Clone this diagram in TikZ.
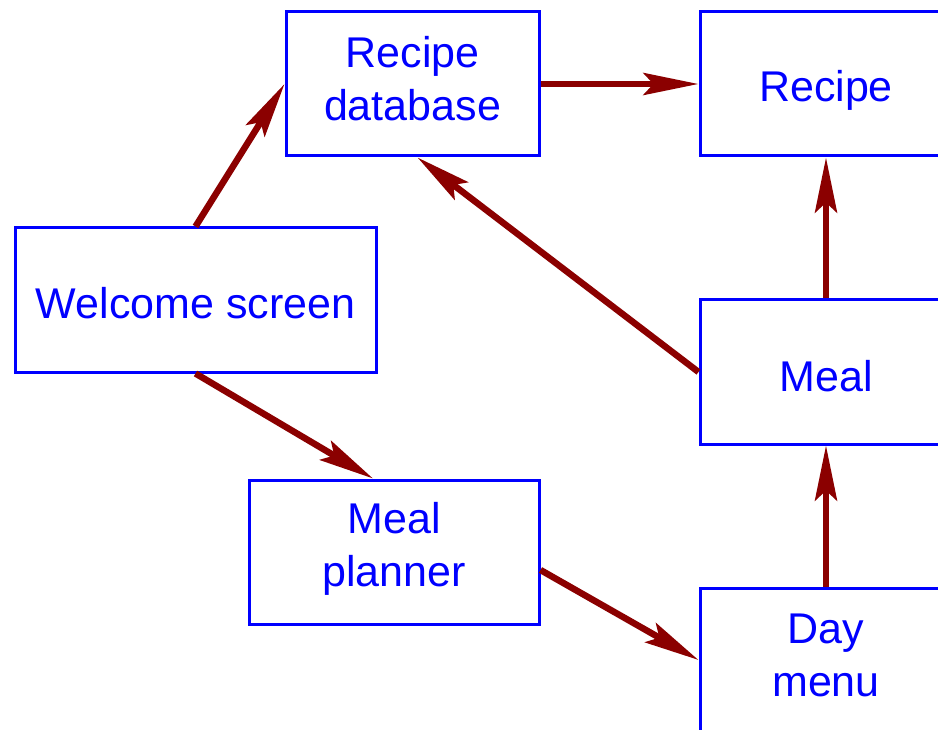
\documentclass[tikz,border=0pt]{standalone}
\usepackage{fontspec}
\setmainfont{Liberation Sans}
\usetikzlibrary{arrows.meta}
\definecolor{arrowred}{RGB}{139,0,0}
\begin{document}
\begin{tikzpicture}[x=1pt,y=-1pt,
  box/.style={draw=blue,line width=3pt,inner sep=0pt,minimum height=144pt},
  txt/.style={text=blue,inner sep=0pt,align=center,
    font=\fontsize{43pt}{53pt}\selectfont},
  link/.style={draw=arrowred,line width=6.5pt,
    -{Stealth[length=55pt,width=22pt,inset=10pt]}}]
\useasboundingbox (0,0) rectangle (938,730);
\node[box,minimum width=253pt] (rdb) at (412.5,84) {};
\node[box,minimum width=252pt] (rec) at (826,84) {};
\node[box,minimum width=361pt] (wel) at (195.5,300) {};
\node[box,minimum width=252pt] (meal) at (826,372) {};
\node[box,minimum width=290pt] (mp) at (394,552) {};
\node[box,minimum width=252pt] (day) at (826,660) {};
\node[txt] (rdbt) at (412.5,79) {Recipe\\database};
\node[txt] (rect) at (826,90) {Recipe};
\node[txt] (welt) at (195.5,303) {Welcome screen};
\node[txt] (mealt) at (826,376) {Meal};
\node[txt] (mpt) at (394,549) {Meal\\planner};
\node[txt] (dayt) at (826,655) {Day\\menu};
\draw[link] (wel.north) -- (rdb.west);
\draw[link] (rdb.east) -- (rec.west);
\draw[link] (meal.west) -- ([xshift=5pt]rdb.south);
\draw[link] (meal.north) -- (rec.south);
\draw[link] (wel.south) -- ([xshift=-21pt]mp.north);
\draw[link] ([yshift=-18pt]mp.east) -- (day.west);
\draw[link] (day.north) -- (meal.south);
\end{tikzpicture}
\end{document}
